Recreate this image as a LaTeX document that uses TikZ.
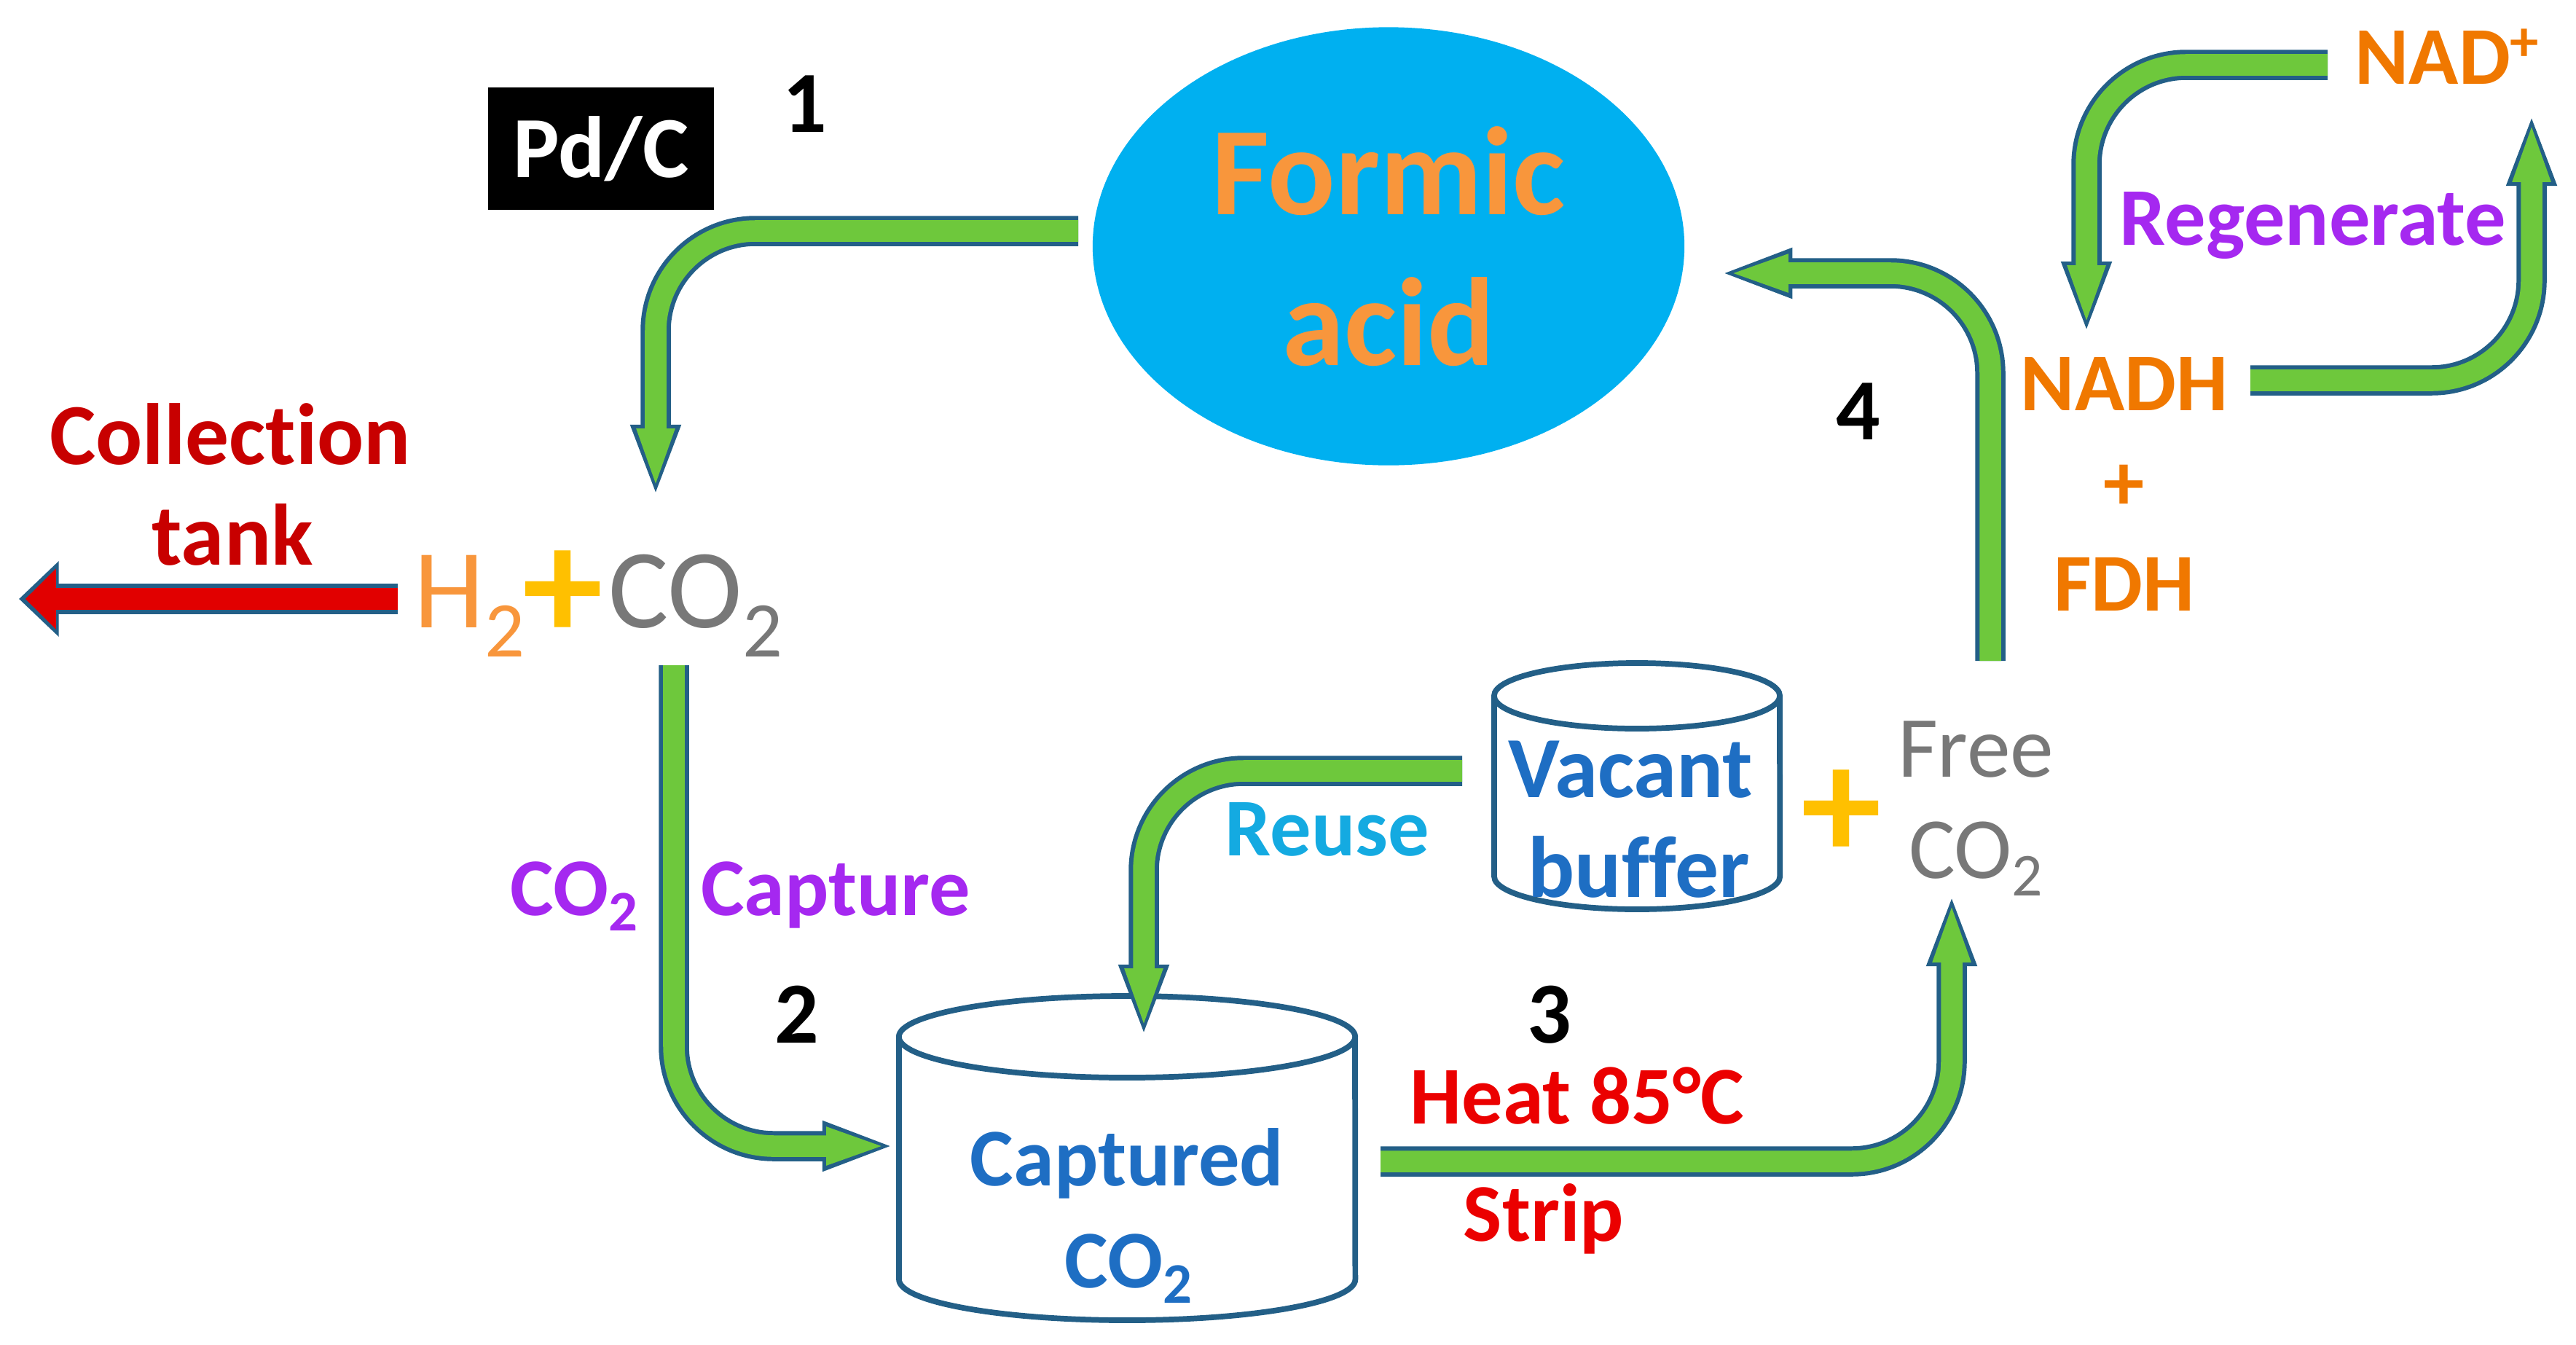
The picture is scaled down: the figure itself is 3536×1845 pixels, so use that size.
\documentclass[tikz,border=0pt]{standalone}
\usepackage{fontspec}
\setmainfont{Carlito}[Ligatures={NoCommon}]
\usetikzlibrary{arrows.meta,shapes.geometric,positioning}

\definecolor{skyfill}{RGB}{0,176,240}
\definecolor{flowgreen}{RGB}{110,200,60}
\definecolor{flowedge}{RGB}{35,95,135}
\definecolor{outred}{RGB}{225,0,0}
\definecolor{formicorange}{RGB}{248,150,60}
\definecolor{enzymeorange}{RGB}{240,120,0}
\definecolor{stepviolet}{RGB}{165,40,240}
\definecolor{reuseblue}{RGB}{20,170,225}
\definecolor{bufferblue}{RGB}{30,110,195}
\definecolor{heatred}{RGB}{235,0,0}
\definecolor{gasgray}{RGB}{120,120,120}
\definecolor{plusyellow}{RGB}{255,192,0}
\definecolor{labelred}{RGB}{200,0,0}

\begin{document}
\begin{tikzpicture}[
  x=0.01cm, y=-0.01cm,
  lbl/.style={inner sep=0pt, anchor=base, font=\fontsize{32}{36}\selectfont\bfseries},
  num/.style={lbl, font=\fontsize{34}{38}\selectfont\bfseries},
  gas/.style={inner sep=0pt, anchor=base west, font=\fontsize{44}{48}\selectfont},
  bigplus/.style={inner sep=0pt, text=plusyellow, font=\fontsize{63}{66}\selectfont\bfseries},
  flow/.style={draw=flowgreen, line width=8.4pt, rounded corners=39pt, shorten >=3pt,
    -{Triangle[length=24pt,width=13pt]},
    preaction={draw=flowedge, line width=11.8pt, shorten >=0pt, -{Triangle[length=28.5pt,width=17.5pt]}}},
  outflow/.style={draw=outred, line width=8.6pt, shorten >=2.5pt,
    -{Triangle[length=12pt,width=23pt]},
    preaction={draw=flowedge, line width=12.2pt, shorten >=0pt, -{Triangle[length=15.5pt,width=28.5pt]}}},
  tank/.style={draw=flowedge, line width=2.2pt, fill=white}
]
  \useasboundingbox (0,0) rectangle (3536,1845);

  % tanks
  \draw[tank] (1234,1423) -- (1234,1756) arc[start angle=180, end angle=360, x radius=3.13cm, y radius=0.56cm] -- (1860,1423);
  \draw[tank] (1547,1423) ellipse[x radius=3.13cm, y radius=0.56cm];
  \draw[tank] (2051,955) -- (2051,1203) arc[start angle=180, end angle=360, x radius=1.96cm, y radius=0.45cm] -- (2443,955);
  \draw[tank] (2247,955) ellipse[x radius=1.96cm, y radius=0.45cm];

  % nodes
  \node[fill=black, text=white, inner sep=0pt, minimum width=88pt, minimum height=48pt,
        font=\fontsize{34}{38}\selectfont\bfseries] (pdc) at (825,204) {Pd/C};
  \node[num] (n1) at (1105,181) {1};
  \node[ellipse, fill=skyfill, inner sep=0pt, minimum width=231pt, minimum height=171pt,
        text=formicorange, align=center, font=\fontsize{49}{59}\selectfont\bfseries] (formic) at (1906,338) {Formic\\acid};

  \node[lbl, text=labelred, font=\fontsize{34}{38}\selectfont\bfseries] (coll) at (316,637) {Collection};
  \node[lbl, text=labelred, font=\fontsize{34}{38}\selectfont\bfseries] (tankl) at (319,775) {tank};

  \node[gas, text=formicorange] (h2) at (568,861) {H\textsubscript{2}};
  \node[bigplus] (plus1) at (773,817) {+};
  \node[gas, text=gasgray] (co2) at (835,861) {CO\textsubscript{2}};

  \node[lbl, text=stepviolet] (capco2) at (789,1256) {CO\textsubscript{2}};
  \node[lbl, text=stepviolet] (capture) at (1147,1256) {Capture};
  \node[num] (n2) at (1094,1431) {2};

  \node[lbl, text=bufferblue] (captured) at (1547,1627) {Captured};
  \node[lbl, text=bufferblue] (capgas) at (1550,1767) {CO\textsubscript{2}};

  \node[lbl, text=reuseblue] (reuse) at (1822,1174) {Reuse};
  \node[lbl, text=bufferblue, font=\fontsize{34}{38}\selectfont\bfseries] (vacant) at (2238,1094) {Vacant};
  \node[lbl, text=bufferblue, font=\fontsize{34}{38}\selectfont\bfseries] (buffer) at (2250,1231) {buffer};
  \node[bigplus] (plus2) at (2528,1118) {+};
  \node[lbl, text=gasgray, font=\fontsize{34}{38}\selectfont] (free) at (2712,1066) {Free};
  \node[lbl, text=gasgray, font=\fontsize{34}{38}\selectfont] (freeco2) at (2713,1205) {CO\textsubscript{2}};

  \node[num] (n3) at (2127,1431) {3};
  \node[lbl, text=heatred] (heat) at (2165,1542) {Heat 85°C};
  \node[lbl, text=heatred] (strip) at (2119,1703) {Strip};

  \node[num] (n4) at (2551,603) {4};
  \node[lbl, text=enzymeorange] (nadh) at (2916,563) {NADH};
  \node[inner sep=0pt, text=enzymeorange, font=\fontsize{32}{36}\selectfont\bfseries] (plus3) at (2915,669) {+};
  \node[lbl, text=enzymeorange] (fdh) at (2916,838) {FDH};
  \node[lbl, anchor=base west, text=enzymeorange] (nadp) at (3232,115) {NAD\textsuperscript{+}};
  \node[lbl, text=stepviolet] (regen) at (3175,336) {Regenerate};

  % arrow ends
  \coordinate (a1s) at (1480,317);
  \coordinate (a1e) at (900,683);
  \coordinate (a2s) at (925,913);
  \coordinate (a2e) at (1229,1573);
  \coordinate (a3s) at (1895,1594);
  \coordinate (a3e) at (2679,1226);
  \coordinate (a4s) at (2732,907);
  \coordinate (a4e) at (2360,375);
  \coordinate (ars) at (2007,1058);
  \coordinate (are) at (1570,1424);
  \coordinate (ans) at (3195,89);
  \coordinate (ane) at (2864,459);
  \coordinate (ahs) at (3089,522);
  \coordinate (ahe) at (3475,155);
  \coordinate (ats) at (546,822);
  \coordinate (ate) at (26,822);

  % arrows
  \draw[flow] (a1s) -| (a1e);
  \draw[flow] (a2s) |- (a2e);
  \draw[flow] (a3s) -| (a3e);
  \draw[flow] (a4s) |- (a4e);
  \draw[flow] (ars) -| (are);
  \draw[flow] (ans) -| (ane);
  \draw[flow] (ahs) -| (ahe);
  \draw[outflow] (ats) -- (ate);
\end{tikzpicture}
\end{document}
